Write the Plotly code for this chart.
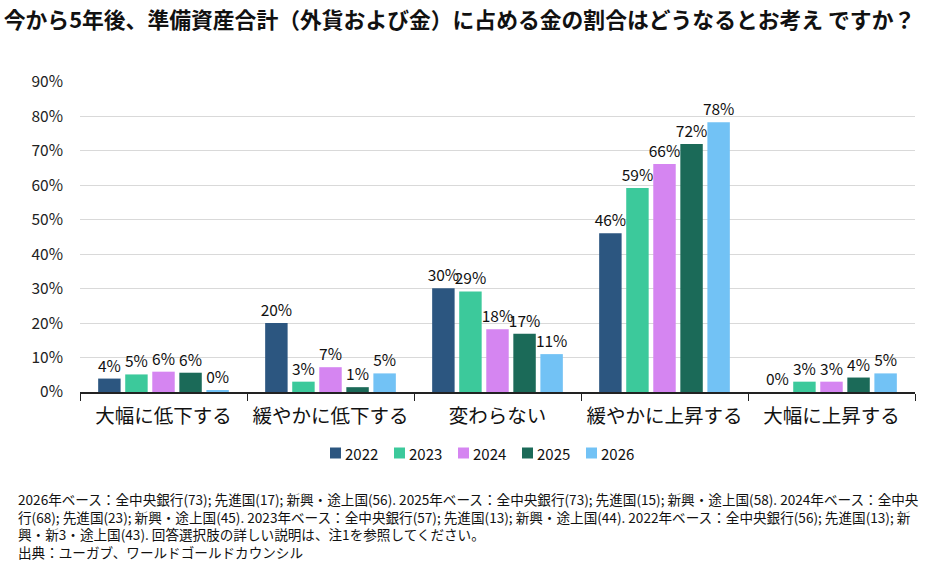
import plotly.graph_objects as go

categories = ["大幅に低下する", "緩やかに低下する", "変わらない", "緩やかに上昇する", "大幅に上昇する"]
years = ["2022", "2023", "2024", "2025", "2026"]
v2022 = [3.9, 20.0, 30.1, 46.1, 0.0]
v2023 = [5.1, 3.0, 29.2, 59.2, 3.0]
v2024 = [5.9, 7.2, 18.2, 66.2, 3.0]
v2025 = [5.6, 1.4, 16.9, 72.0, 4.2]
v2026 = [0.3, 5.4, 11.0, 78.3, 5.4]
series = [v2022, v2023, v2024, v2025, v2026]
colors = ["#2C5680", "#3CC99B", "#D585F1", "#1B6A58", "#72C2F5"]
y_ticks = [0, 10, 20, 30, 40, 50, 60, 70, 80, 90]

title = "今から5年後、準備資産合計（外貨および金）に占める金の割合はどうなるとお考え ですか？"
foot_lines = [
    "2026年ベース：全中央銀行(73); 先進国(17); 新興・途上国(56). 2025年ベース：全中央銀行(73); 先進国(15); 新興・途上国(58). 2024年ベース：全中央",
    "行(68); 先進国(23); 新興・途上国(45). 2023年ベース：全中央銀行(57); 先進国(13); 新興・途上国(44). 2022年ベース：全中央銀行(56); 先進国(13); 新",
    "興・新3・途上国(43). 回答選択肢の詳しい説明は、注1を参照してください。",
    "出典：ユーガブ、ワールドゴールドカウンシル",
]

FONT = "Noto Sans CJK JP"
fig = go.Figure()
for name, vals, col in zip(years, series, colors):
    fig.add_trace(go.Bar(
        name=name, x=categories, y=vals, marker=dict(color=col, line=dict(width=0)),
        text=[f"{round(v)}%" for v in vals], textposition="outside",
        textfont=dict(size=15.5, color="#111111", family=FONT),
        constraintext="none", cliponaxis=False, showlegend=False,
    ))

L, R, T, B = 80, 29, 82, 179
W, H = 944, 571
pw = W - L - R
ph = H - T - B

def px(x):
    return (x - L) / pw

def py(y):
    return (H - B - y) / ph

annotations = [dict(
    text="<br>".join(foot_lines), xref="paper", yref="paper", x=px(16), y=py(487),
    xanchor="left", yanchor="top", showarrow=False, align="left",
    font=dict(size=13.6, color="#111111", family=FONT),
)]

# custom compact legend (squares + labels)
shapes = []
leg_x0, leg_step, leg_y, sq = 330, 64, 453, 11
for i, (name, col) in enumerate(zip(years, colors)):
    x0 = leg_x0 + i * leg_step
    shapes.append(dict(type="rect", xref="paper", yref="paper",
                       x0=px(x0), x1=px(x0 + sq), y0=py(leg_y + sq / 2), y1=py(leg_y - sq / 2),
                       fillcolor=col, line=dict(width=0)))
    annotations.append(dict(text=name, xref="paper", yref="paper", x=px(x0 + sq + 2), y=py(leg_y),
                            xanchor="left", yanchor="middle", showarrow=False,
                            font=dict(size=15, color="#111111", family=FONT)))

fig.update_layout(
    width=W, height=H,
    margin=dict(l=L, r=R, t=T, b=B),
    paper_bgcolor="white", plot_bgcolor="white",
    barmode="group", bargap=0.19, bargroupgap=0.17,
    title=dict(text="<b>" + title + "</b>", x=0.004, xanchor="left", y=0.965, yanchor="middle",
               font=dict(size=21.8, color="#111111", family=FONT)),
    font=dict(family=FONT, color="#111111"),
    showlegend=False,
    annotations=annotations,
    shapes=shapes,
    xaxis=dict(showline=True, linecolor="#222222", linewidth=1.5,
               ticks="outside", tickson="boundaries", ticklen=7, tickcolor="#222222",
               ticklabelstandoff=6,
               tickfont=dict(size=19.5, color="#111111", family=FONT)),
    yaxis=dict(range=[0, 90], tickvals=y_ticks, ticktext=[f"{t}%" for t in y_ticks],
               showgrid=True, gridcolor="#D9D9D9", gridwidth=1, zeroline=False,
               showline=False, ticks="", ticklabelstandoff=16,
               tickfont=dict(size=15.5, color="#222222", family=FONT)),
)

fig.write_html("out.html")
